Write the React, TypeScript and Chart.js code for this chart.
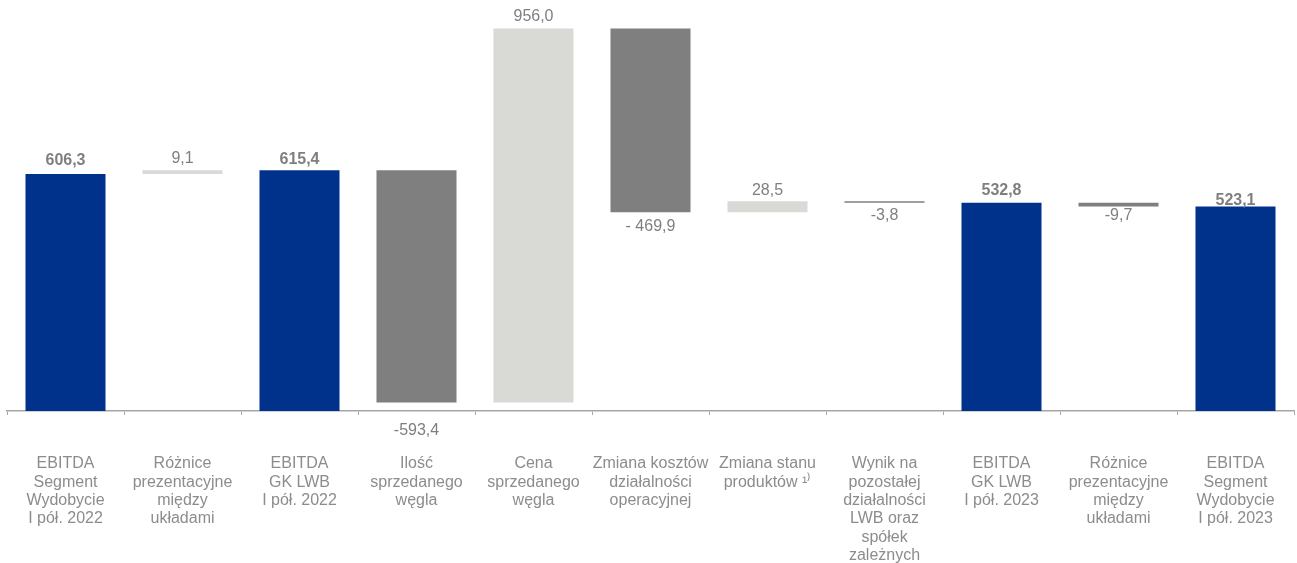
import React, { useEffect, useRef } from "react";
import { Chart, registerables } from "chart.js";

Chart.register(...registerables);

// Category captions (one entry per line of text)
const categories: string[][] = [
  ["EBITDA", "Segment", "Wydobycie", "I pół. 2022"],
  ["Różnice", "prezentacyjne", "między", "układami"],
  ["EBITDA", "GK LWB", "I pół. 2022"],
  ["Ilość", "sprzedanego", "węgla"],
  ["Cena", "sprzedanego", "węgla"],
  ["Zmiana kosztów", "działalności", "operacyjnej"],
  ["Zmiana stanu", "produktów ¹⁾"],
  ["Wynik na", "pozostałej", "działalności", "LWB oraz", "spółek", "zależnych"],
  ["EBITDA", "GK LWB", "I pół. 2023"],
  ["Różnice", "prezentacyjne", "między", "układami"],
  ["EBITDA", "Segment", "Wydobycie", "I pół. 2023"],
];

// Totals are absolute levels, the rest are changes stacked on the running level
const values: number[] = [606.3, 9.1, 615.4, -593.4, 956.0, -469.9, 28.5, -3.8, 532.8, -9.7, 523.1];
const isTotal: boolean[] = [true, false, true, false, false, false, false, false, true, false, true];
const valueLabels: string[] = ["606,3", "9,1", "615,4", "-593,4", "956,0", "- 469,9", "28,5", "-3,8", "532,8", "-9,7", "523,1"];

// Distance between a bar edge and its value label baseline
const labelGap: number[] = [9, 7, 6, 0, 8, 19, 6, 17, 8, 14, 1];

const COLOR_TOTAL = "#00318b";
const COLOR_UP = "#d9dad6";
const COLOR_DOWN = "#7f7f7f";
const FONT = '"Liberation Sans", Arial, Helvetica, sans-serif';

function buildRanges(): [number, number][] {
  let level = 0;
  return values.map((v, i) => {
    if (isTotal[i]) {
      level = v;
      return [0, v] as [number, number];
    }
    const start = level;
    level = +(level + v).toFixed(1);
    return [start, level] as [number, number];
  });
}

const valueLabelPlugin = {
  id: "waterfallValueLabels",
  afterDatasetsDraw(chart: any) {
    const { ctx } = chart;
    const meta = chart.getDatasetMeta(0);
    const axisY = chart.scales.y.getPixelForValue(0);
    ctx.save();
    ctx.fillStyle = "#7f7f7f";
    ctx.textAlign = "center";
    ctx.textBaseline = "alphabetic";
    meta.data.forEach((bar: any, i: number) => {
      const top = Math.min(bar.y, bar.base);
      const bottom = Math.max(bar.y, bar.base);
      ctx.font = `${isTotal[i] ? "bold " : ""}16px ${FONT}`;
      let y: number;
      if (values[i] >= 0) {
        y = top - labelGap[i];
      } else if (bottom + 20 > axisY) {
        // too close to the axis: put the label under it
        y = axisY + 24;
      } else {
        y = bottom + labelGap[i];
      }
      ctx.fillText(valueLabels[i], bar.x, y);
    });
    ctx.restore();
  },
};

export default function App() {
  const canvasRef = useRef<HTMLCanvasElement | null>(null);

  useEffect(() => {
    if (!canvasRef.current) return;
    const ranges = buildRanges();
    const colors = values.map((v, i) => (isTotal[i] ? COLOR_TOTAL : v >= 0 ? COLOR_UP : COLOR_DOWN));

    const chart = new Chart(canvasRef.current, {
      type: "bar",
      data: {
        labels: categories,
        datasets: [
          {
            data: ranges,
            backgroundColor: colors,
            borderWidth: 0,
            borderSkipped: false,
            barPercentage: 0.684,
            categoryPercentage: 1,
          },
        ],
      },
      options: {
        animation: false,
        responsive: false,
        maintainAspectRatio: false,
        layout: { padding: { left: 7, right: 3, top: 0, bottom: 0 } },
        plugins: {
          legend: { display: false },
          tooltip: { enabled: false },
        },
        scales: {
          x: {
            grid: {
              offset: true,
              drawOnChartArea: false,
              drawTicks: true,
              tickLength: 4,
              color: "#a6a6a6",
              lineWidth: 1,
            },
            border: { display: true, color: "#a6a6a6", width: 1.5 },
            ticks: {
              color: "#8c8c8c",
              font: { family: FONT, size: 16, lineHeight: 1.15 },
              padding: 39.5,
              maxRotation: 0,
              minRotation: 0,
              autoSkip: false,
            },
            afterFit: (scale: any) => {
              // fixed axis band; labels fit inside their categories, so no side padding
              scale.height = 152;
              scale.paddingLeft = 0;
              scale.paddingRight = 0;
            },
          },
          y: {
            display: false,
            min: 0,
            max: 1051,
          },
        },
      },
      plugins: [valueLabelPlugin],
    });

    return () => chart.destroy();
  }, []);

  return (
    <div style={{ position: "absolute", left: 0, top: 0, width: 1297, height: 563, background: "#ffffff" }}>
      <canvas ref={canvasRef} width={1297} height={563} style={{ display: "block" }} />
    </div>
  );
}
